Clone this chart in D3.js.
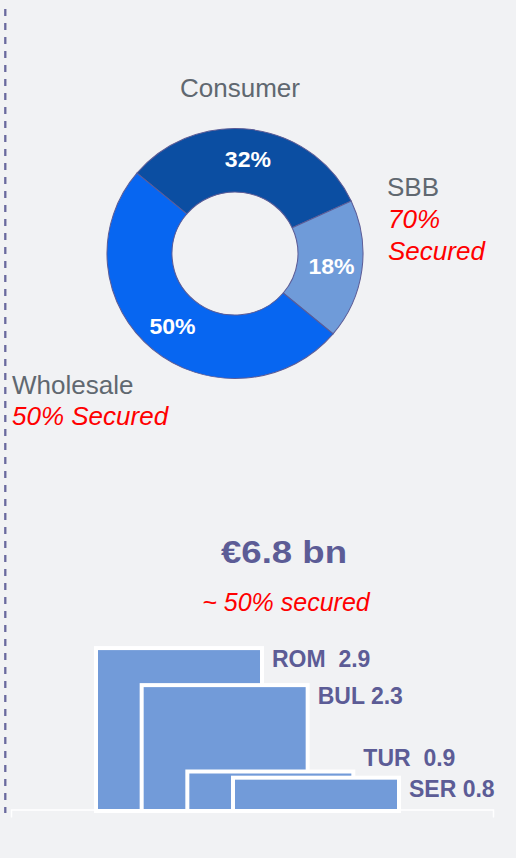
<!DOCTYPE html>
<html>
<head>
<meta charset="utf-8">
<script src="https://cdn.jsdelivr.net/npm/d3@7"></script>
<style>
    body { margin: 0; background: #f1f2f4; }
    svg { display: block; font-family: "Liberation Sans", Arial, sans-serif; }
    .seg-label { fill: #606870; font-size: 26px; }
    .secured { fill: #ff0000; font-size: 26px; font-style: italic; }
    .pct-label { fill: #ffffff; font-size: 22.5px; font-weight: bold; }
    .bar-label { fill: #5c5c96; font-size: 23px; font-weight: bold; white-space: pre; }
</style>
</head>
<body>
<script>
// Set chart dimensions
const width = 516;
const height = 858;

// Donut data: segment share of the portfolio
const segments = ["Consumer", "SBB", "Wholesale"];
const shares = [32, 18, 50];
const segmentColors = ["#0b4ea2", "#6f9bd9", "#0766f1"];

// Country bars (EUR bn)
const countries = ["ROM", "BUL", "TUR", "SER"];
const amounts = [2.9, 2.3, 0.9, 0.8];
const barLabels = ["ROM  2.9", "BUL 2.3", "TUR  0.9", "SER 0.8"];

const totalLabel = "€6.8 bn";
const totalSecured = "~ 50% secured";

// Create the SVG container
const svg = d3.select("body")
    .append("svg")
    .attr("width", width)
    .attr("height", height);

// Dashed divider on the left
svg.append("line")
    .attr("x1", 5.3)
    .attr("x2", 5.3)
    .attr("y1", 9)
    .attr("y2", 813)
    .attr("stroke", "#6a6a9e")
    .attr("stroke-width", 2.3)
    .attr("stroke-dasharray", "7,7");

// ---- Donut ----
const pie = d3.pie()
    .sort(null)
    .startAngle(-50 * Math.PI / 180)
    .endAngle(310 * Math.PI / 180);

const arc = d3.arc()
    .innerRadius(61.5)
    .outerRadius(125);

const labelArc = d3.arc()
    .innerRadius(95)
    .outerRadius(95);

const donut = svg.append("g")
    .attr("transform", "translate(235, 253.5) scale(1.024, 1)");

const arcs = pie(shares);

donut.selectAll("path")
    .data(arcs)
    .join("path")
    .attr("d", arc)
    .attr("fill", (d, i) => segmentColors[i])
    .attr("stroke", "#5c5c96")
    .attr("stroke-width", 1);

donut.selectAll("text")
    .data(arcs)
    .join("text")
    .attr("class", "pct-label")
    .attr("transform", d => `translate(${labelArc.centroid(d)})`)
    .attr("text-anchor", "middle")
    .attr("dy", "0.36em")
    .text(d => d.data + "%");

// Segment labels
svg.append("text")
    .attr("class", "seg-label")
    .attr("x", 180)
    .attr("y", 97)
    .text(segments[0]);

svg.append("text")
    .attr("class", "seg-label")
    .attr("x", 387)
    .attr("y", 196)
    .text(segments[1]);

svg.append("text")
    .attr("class", "secured")
    .attr("x", 388)
    .attr("y", 228)
    .text("70%");

svg.append("text")
    .attr("class", "secured")
    .attr("x", 388)
    .attr("y", 260)
    .text("Secured");

svg.append("text")
    .attr("class", "seg-label")
    .attr("x", 12)
    .attr("y", 394)
    .text(segments[2]);

svg.append("text")
    .attr("class", "secured")
    .attr("x", 12)
    .attr("y", 425)
    .text("50% Secured");

// ---- Country bars ----
svg.append("text")
    .attr("x", 221)
    .attr("y", 563)
    .attr("fill", "#5c5c96")
    .attr("font-size", 31)
    .attr("font-weight", "bold")
    .attr("textLength", 126)
    .attr("lengthAdjust", "spacingAndGlyphs")
    .text(totalLabel);

svg.append("text")
    .attr("class", "secured")
    .attr("x", 286)
    .attr("y", 611)
    .attr("text-anchor", "middle")
    .style("font-size", "25px")
    .text(totalSecured);

const barWidth = 166;

const xScale = d3.scaleLinear()
    .domain([0, countries.length - 1])
    .range([96, 233]);

const yScale = d3.scaleLinear()
    .domain([0.26, 2.95])
    .range([811, 645]);

svg.selectAll(".bar")
    .data(amounts)
    .join("rect")
    .attr("class", "bar")
    .attr("x", (d, i) => xScale(i))
    .attr("y", d => yScale(d))
    .attr("width", barWidth)
    .attr("height", d => 811 - yScale(d))
    .attr("fill", "#729bd9")
    .attr("stroke", "#ffffff")
    .attr("stroke-width", 4);

// Baseline with end ticks
const baseScale = d3.scaleLinear()
    .domain([0, 1])
    .range([11, 493]);

svg.append("g")
    .attr("transform", "translate(0, 809.5)")
    .call(d3.axisBottom(baseScale).tickValues([]).tickSizeOuter(8))
    .call(g => g.select(".domain").attr("stroke", "#ffffff").attr("stroke-width", 1.5));

// Labels right of each bar, pushed up where they would collide
const labelY = [];
for (let i = amounts.length - 1; i >= 0; i--) {
    let y = yScale(amounts[i]) + 19;
    if (i < amounts.length - 1) y = Math.min(y, labelY[i + 1] - 31);
    labelY[i] = y;
}

svg.selectAll(".bar-label")
    .data(barLabels)
    .join("text")
    .attr("class", "bar-label")
    .attr("x", (d, i) => xScale(i) + barWidth + 10)
    .attr("y", (d, i) => labelY[i])
    .text(d => d);
</script>
</body>
</html>
